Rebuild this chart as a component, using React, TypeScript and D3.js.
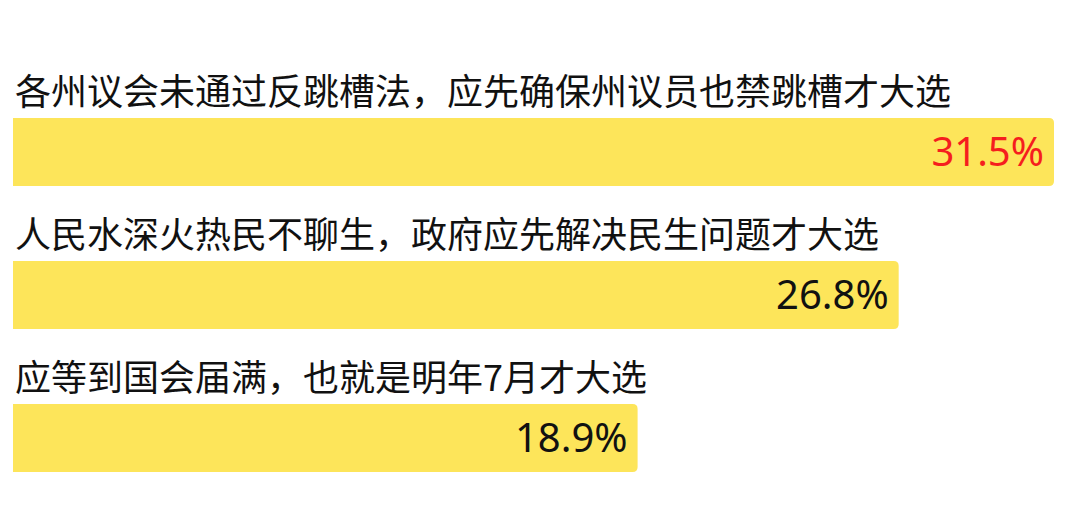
import { useMemo } from 'react';
import { scaleLinear, scalePoint } from 'd3';

const categories = [
  '各州议会未通过反跳槽法，应先确保州议员也禁跳槽才大选',
  '人民水深火热民不聊生，政府应先解决民生问题才大选',
  '应等到国会届满，也就是明年7月才大选',
];
const values = [31.5, 26.8, 18.9];
const valueLabels = ['31.5%', '26.8%', '18.9%'];
const valueColors = ['#F51E1E', '#111111', '#111111'];

const WIDTH = 1079;
const HEIGHT = 527;
const BAR_H = 68;
const R = 5;

function barPath(x0: number, x1: number, y: number, h: number, r: number) {
  return `M${x0},${y}H${x1 - r}Q${x1},${y} ${x1},${y + r}V${y + h - r}Q${x1},${y + h} ${x1 - r},${y + h}H${x0}Z`;
}

export default function App() {
  const x = useMemo(() => scaleLinear().domain([0, 31.5]).range([13, 1054]), []);
  const y = useMemo(() => scalePoint<string>().domain(categories).range([118, 404]), []);

  return (
    <svg
      width={WIDTH}
      height={HEIGHT}
      style={{ position: 'absolute', left: 0, top: 0, background: '#fff' }}
    >
      {categories.map((c, i) => {
        const top = y(c) ?? 0;
        return (
          <g key={c}>
            <text
              x={15}
              y={top - 13}
              fontSize={36}
              fontFamily="'Noto Sans CJK SC', sans-serif"
              fill="#111"
            >
              {c}
            </text>
            <path d={barPath(x(0), x(values[i]), top, BAR_H, R)} fill="#FDE55A" />
            <text
              x={x(values[i]) - 10}
              y={top + BAR_H / 2 + 14}
              textAnchor="end"
              fontSize={40}
              fontFamily="'Noto Sans', sans-serif"
              fill={valueColors[i]}
            >
              {valueLabels[i]}
            </text>
          </g>
        );
      })}
    </svg>
  );
}
